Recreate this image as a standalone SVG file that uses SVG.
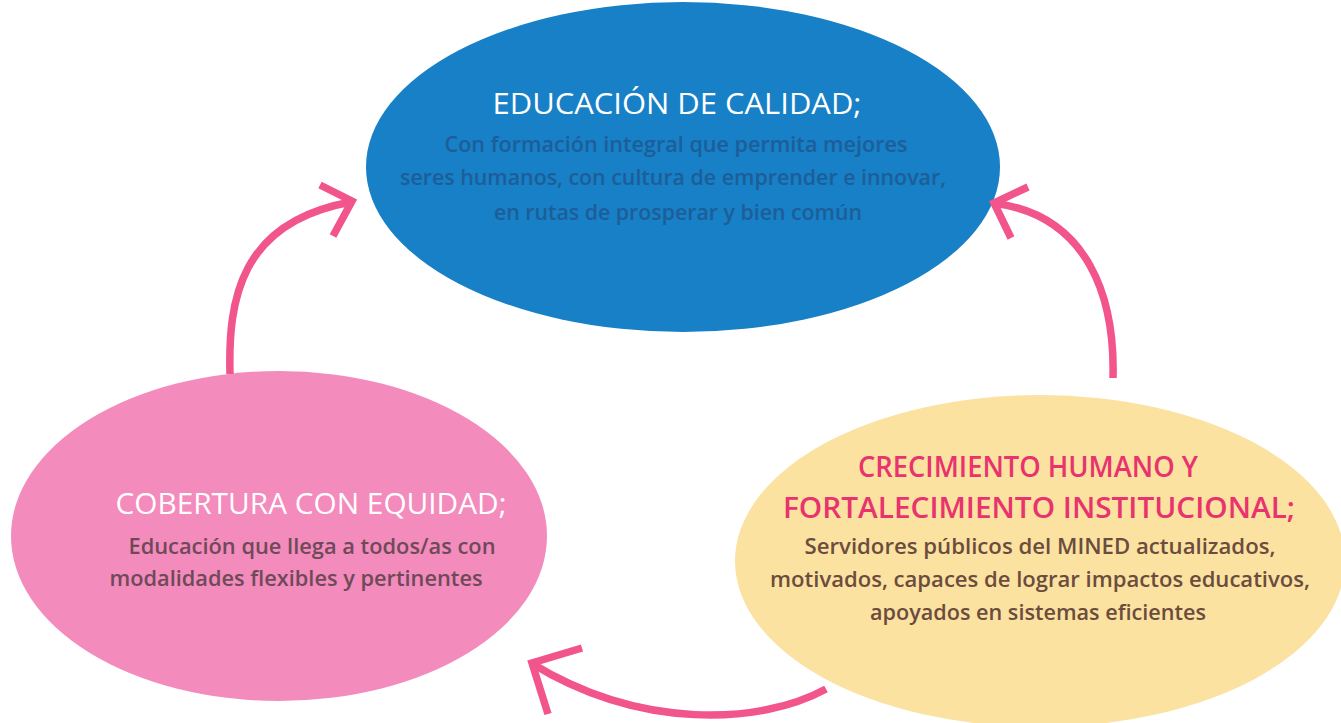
<svg xmlns="http://www.w3.org/2000/svg" width="1341" height="723" viewBox="0 0 1341 723">
<style>
.t{font-family:"Open Sans","Noto Sans",sans-serif;text-anchor:middle;font-weight:600}
.h{font-size:29px;fill:#ffffff;font-weight:400}
.b{font-size:21px}
.arr{fill:none;stroke:#f2548c;stroke-width:7.5;stroke-linecap:butt;stroke-linejoin:miter}
</style>
<rect width="1341" height="723" fill="#ffffff"/>
<g id="node-educacion">
<ellipse cx="683" cy="167" rx="317" ry="165" fill="#1780c6"/>
<text class="t h" x="677" y="114" textLength="369" lengthAdjust="spacingAndGlyphs">EDUCACIÓN DE CALIDAD;</text>
<text class="t b" fill="#1d5e98" x="676" y="152" textLength="463" lengthAdjust="spacingAndGlyphs">Con formación integral que permita mejores</text>
<text class="t b" fill="#1d5e98" x="673" y="185" textLength="546" lengthAdjust="spacingAndGlyphs">seres humanos, con cultura de emprender e innovar,</text>
<text class="t b" fill="#1d5e98" x="678" y="220" textLength="368" lengthAdjust="spacingAndGlyphs">en rutas de prosperar y bien común</text>
</g>
<g id="node-cobertura">
<ellipse cx="279" cy="536" rx="268" ry="165" fill="#f38bbd"/>
<text class="t h" x="311" y="514" textLength="391" lengthAdjust="spacingAndGlyphs">COBERTURA CON EQUIDAD;</text>
<text class="t b" fill="#6e4a58" x="312" y="554" textLength="367" lengthAdjust="spacingAndGlyphs">Educación que llega a todos/as con</text>
<text class="t b" fill="#6e4a58" x="296" y="586" textLength="373" lengthAdjust="spacingAndGlyphs">modalidades flexibles y pertinentes</text>
</g>
<g id="node-crecimiento">
<ellipse cx="1040" cy="561" rx="305" ry="166" fill="#fbe2a0"/>
<text class="t" font-size="28" fill="#e8336f" x="1028" y="477" textLength="340" lengthAdjust="spacingAndGlyphs">CRECIMIENTO HUMANO Y</text>
<text class="t" font-size="28" fill="#e8336f" x="1039" y="518" textLength="512" lengthAdjust="spacingAndGlyphs">FORTALECIMIENTO INSTITUCIONAL;</text>
<text class="t b" fill="#6b4c3e" x="1040" y="554" textLength="471" lengthAdjust="spacingAndGlyphs">Servidores públicos del MINED actualizados,</text>
<text class="t b" fill="#6b4c3e" x="1040" y="587" textLength="540" lengthAdjust="spacingAndGlyphs">motivados, capaces de lograr impactos educativos,</text>
<text class="t b" fill="#6b4c3e" x="1038" y="620" textLength="336" lengthAdjust="spacingAndGlyphs">apoyados en sistemas eficientes</text>
</g>
<g id="connectors">
<path class="arr" d="M230,374 C228,300 240,222 351,202"/>
<path class="arr" d="M320,185 L352,201 L333,236"/>
<path class="arr" d="M1113,378 C1115,300 1090,215 993,203"/>
<path class="arr" d="M1028,187 L994,203 L1011,238"/>
<path class="arr" d="M826,689 C760,725 640,730 531,663"/>
<path class="arr" d="M582,648 L532,663 L548,714"/>
</g>
</svg>
